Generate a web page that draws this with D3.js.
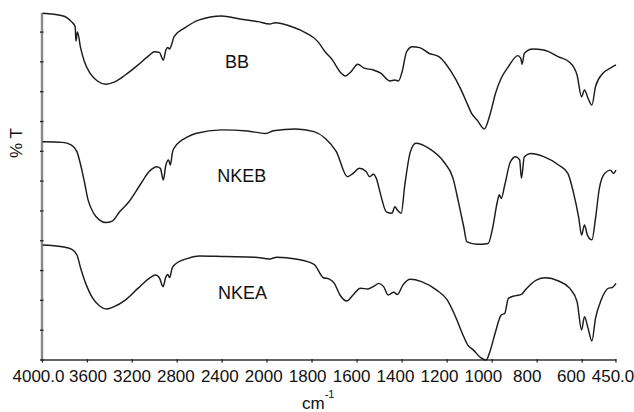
<!DOCTYPE html>
<html>
<head>
<meta charset="utf-8">
<script src="https://cdn.jsdelivr.net/npm/d3@7"></script>
<style>
  html, body { margin: 0; padding: 0; background: #fff; }
  svg { display: block; }
</style>
</head>
<body>
<div id="chart"></div>
<script>
// ---------- data ----------
const tickValues = [4000, 3600, 3200, 2800, 2400, 2000, 1800, 1600, 1400, 1200, 1000, 800, 600, 450];
const tickLabels = ["4000.0", "3600", "3200", "2800", "2400", "2000", "1800", "1600", "1400", "1200", "1000", "800", "600", "450.0"];
const yTicks = [0, 10, 20, 30, 40, 50, 60, 70, 80, 90, 100, 110];
const seriesNames = ["BB", "NKEB", "NKEA"];

const bbWave = [4000,3824,3742,3709,3702,3689,3660,3627,3577,3511,3435,3362,3263,3148,3065,3000,2959,2924,2901,2884,2868,2851,2828,2736,2603,2405,2240,2076,1988,1964,1889,1824,1774,1742,1709,1676,1651,1627,1597,1569,1528,1495,1454,1432,1416,1400,1380,1355,1322,1281,1235,1182,1141,1108,1092,1067,1035,1010,985,960,928,886,873,867,857,820,771,705,656,623,603,590,574,557,541,508,475,450];
const bbT    = [116.3,115.5,113.5,111.8,107.0,110.0,104.6,100.1,96.2,93.6,92.5,93.2,95.6,99.0,101.7,103.4,103.2,100.6,104.0,104.8,104.3,105.7,108.5,111.3,114.1,115.4,114.4,113.5,112.7,113.1,111.8,109.6,106.8,103.4,100.6,96.7,95.3,96.7,99.2,97.9,97.3,96.2,93.6,93.9,93.6,96.7,103.4,105.1,104.8,102.9,101.7,96.7,91.1,85.5,82.8,80.5,77.5,82.2,89.5,94.5,98.4,102.1,101.2,99.2,102.9,104.3,104.0,101.7,99.9,95.6,88.3,90.6,87.8,85.5,91.7,96.2,97.9,99.0];

const nkebWave = [4000,3824,3742,3693,3660,3627,3594,3544,3494,3435,3379,3313,3230,3131,3049,2983,2950,2924,2901,2877,2861,2841,2818,2703,2636,2405,2175,2010,1972,1873,1791,1742,1692,1643,1618,1590,1560,1544,1528,1515,1495,1470,1445,1432,1421,1404,1388,1363,1339,1281,1215,1174,1150,1125,1113,1067,1018,998,977,968,960,944,919,895,878,870,857,829,771,705,664,640,615,603,590,577,557,541,524,500,475,462,450];
const nkebT    = [73.2,73.0,72.1,69.9,65.4,59.8,53.7,49.2,47.0,46.1,46.6,49.7,53.1,58.7,63.2,64.8,64.3,60.4,65.4,67.1,65.4,69.9,71.6,74.9,76.0,77.2,76.8,76.0,76.9,77.5,76.6,74.4,69.9,61.5,62.6,64.3,63.2,61.5,62.3,61.0,55.4,49.7,49.2,51.4,50.3,49.2,58.7,69.9,72.7,71.0,66.5,61.0,53.1,44.2,39.7,38.8,39.1,44.2,53.1,55.4,54.2,58.7,66.5,68.2,67.1,61.0,68.2,69.3,68.2,65.4,62.6,56.5,47.5,41.9,45.3,41.9,40.3,47.5,57.6,62.6,63.7,62.6,63.7];

const nkeaWave = [4000,3824,3742,3693,3660,3610,3560,3494,3428,3362,3263,3148,3049,2992,2959,2926,2901,2884,2868,2845,2818,2703,2603,2372,2109,1988,1956,1873,1791,1750,1725,1701,1676,1646,1618,1585,1552,1528,1503,1482,1462,1437,1421,1396,1363,1314,1248,1199,1166,1133,1108,1084,1051,1026,1010,985,960,944,928,895,870,853,804,763,705,656,623,603,590,574,557,541,516,483,467,450];
const nkeaT    = [38.6,38.0,37.2,35.2,30.8,25.2,21.2,18.2,17.1,17.9,20.1,24.1,27.4,28.5,27.6,24.6,27.9,28.7,27.6,30.8,32.1,34.1,34.9,34.7,34.5,33.9,34.5,33.9,32.1,27.6,27.2,25.7,21.8,19.8,21.8,24.1,23.8,24.6,25.7,24.6,21.8,22.7,22.0,25.2,27.1,26.3,23.5,20.1,15.1,9.0,5.0,3.4,0.8,0.0,2.8,9.5,15.1,15.7,20.7,21.6,22.0,23.5,26.8,27.6,26.5,24.1,19.6,10.1,14.5,10.6,6.4,14.0,20.1,24.1,24.3,25.7];

// label anchor positions in data units (wavenumber, %T)
const labelWave = [2267, 2225, 2218];
const labelT = [98.0, 59.8, 20.4];

// ---------- layout ----------
const W = 634, H = 412;
const svg = d3.select("#chart").append("svg").attr("width", W).attr("height", H);

const x = d3.scaleLinear().domain([4000, 2000, 450]).range([42.5, 267, 616]);
const y = d3.scaleLinear().domain([0, 116.4]).range([360, 13]);

// font handling: prefer a narrow sans; emulate if not installed
const cv = document.createElement("canvas").getContext("2d");
cv.font = "17px 'Liberation Sans Narrow'";
const wn = cv.measureText("4000000").width;
cv.font = "17px 'Liberation Sans'";
const wr = cv.measureText("4000000").width;
const hasNarrow = wn < 0.9 * wr;
const FAM = hasNarrow ? "'Liberation Sans Narrow', 'Arial Narrow', sans-serif" : "'Liberation Sans', Arial, sans-serif";
const SX = hasNarrow ? 1 : 0.82;

function label(g, px, py, txt, size, anchor, rot) {
  return g.append("text")
    .attr("transform", `translate(${px},${py})` + (rot ? ` rotate(${rot})` : "") + ` scale(${SX},1)`)
    .attr("font-family", FAM)
    .attr("font-size", size)
    .attr("text-anchor", anchor || "middle")
    .attr("fill", "#111")
    .text(txt);
}

// ---------- axes ----------
const axes = svg.append("g");
axes.append("line")
  .attr("x1", x(4000) - 0.5).attr("x2", x(4000) - 0.5)
  .attr("y1", y(116.4)).attr("y2", y(0))
  .attr("stroke", "#8a8a8a").attr("stroke-width", 2.4);
axes.append("line")
  .attr("x1", x(4000) - 1.5).attr("x2", x(450))
  .attr("y1", y(0)).attr("y2", y(0))
  .attr("stroke", "#333").attr("stroke-width", 1.5);

axes.selectAll(".yt").data(yTicks).join("line")
  .attr("x1", x(4000) - 2.5).attr("x2", x(4000) + 1)
  .attr("y1", d => y(d)).attr("y2", d => y(d))
  .attr("stroke", "#222").attr("stroke-width", 1.3);

axes.selectAll(".xt").data(tickValues).join("line")
  .attr("x1", d => x(d)).attr("x2", d => x(d))
  .attr("y1", y(0) - 1).attr("y2", y(0) + 2.5)
  .attr("stroke", "#222").attr("stroke-width", 1.3);

// x tick labels: end labels near their ticks, inner labels evenly laid out
const inner = tickLabels.slice(1, -1);
const lx = d3.scalePoint().domain(inner).range([x(3600) + 0.6, x(600) - 11]);
label(axes, x(tickValues[0]) - 4, 382, tickLabels[0], 17, "middle");
inner.forEach(l => label(axes, lx(l), 382, l, 17, "middle"));
label(axes, x(tickValues[tickValues.length - 1]) - 3, 382, tickLabels[tickLabels.length - 1], 17, "middle");

// axis titles
label(axes, 22, 143, "% T", 17, "middle", -90);
const cmText = label(axes, 302, 409, "cm", 17, "start");
cmText.append("tspan").attr("font-size", 11).attr("dy", -11).text("-1");

// ---------- series ----------
const line = d3.line()
  .x(d => x(d[0]))
  .y(d => y(d[1]))
  .curve(d3.curveMonotoneX);

const series = [
  { name: seriesNames[0], w: bbWave, t: bbT },
  { name: seriesNames[1], w: nkebWave, t: nkebT },
  { name: seriesNames[2], w: nkeaWave, t: nkeaT }
];

const plot = svg.append("g");
series.forEach((s, i) => {
  const pts = s.w.map((w, j) => [w, s.t[j]]);
  plot.append("path")
    .attr("d", line(pts))
    .attr("fill", "none")
    .attr("stroke", "#1c1c1c")
    .attr("stroke-width", 1.45)
    .attr("stroke-linejoin", "round");
  label(plot, x(labelWave[i]), y(labelT[i]), s.name, 18, "middle");
});
</script>
</body>
</html>
